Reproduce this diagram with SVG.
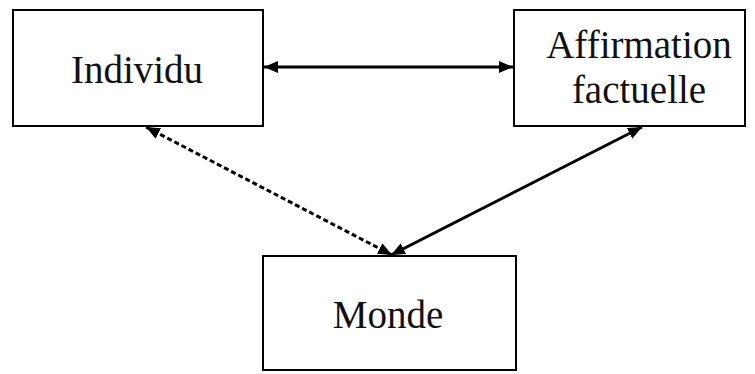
<svg xmlns="http://www.w3.org/2000/svg" width="755" height="374" viewBox="0 0 755 374">
  <style>
    .box { fill: #ffffff; stroke: #000000; stroke-width: 2; }
    .label { font-family: "Liberation Serif", "Times New Roman", serif; font-size: 39px; fill: #111111; text-anchor: middle; }
    .link { stroke: #000000; stroke-width: 3; fill: none; }
    .dashed { stroke-dasharray: 5 3; }
  </style>
  <defs>
    <marker id="arrow" viewBox="0 0 14 12" refX="14" refY="6" markerWidth="14" markerHeight="12" orient="auto-start-reverse" markerUnits="userSpaceOnUse">
      <path d="M0,0 L14,6 L0,12 Z" fill="#000000"/>
    </marker>
  </defs>
  <rect width="755" height="374" fill="#ffffff"/>

  <g id="individu">
    <rect class="box" x="13" y="10" width="250" height="116"/>
    <text class="label" x="137" y="83">Individu</text>
  </g>

  <g id="affirmation">
    <rect class="box" x="514" y="10" width="231" height="116"/>
    <text class="label" x="639" y="58">Affirmation</text>
    <text class="label" x="639" y="103">factuelle</text>
  </g>

  <g id="monde">
    <rect class="box" x="263" y="256" width="253" height="114"/>
    <text class="label" x="388" y="328">Monde</text>
  </g>

  <g id="connectors">
    <line class="link" x1="264" y1="67" x2="513" y2="67" marker-start="url(#arrow)" marker-end="url(#arrow)"/>
    <line class="link dashed" x1="146" y1="127" x2="392" y2="255" marker-start="url(#arrow)" marker-end="url(#arrow)"/>
    <line class="link" x1="642" y1="127" x2="391" y2="255" marker-start="url(#arrow)" marker-end="url(#arrow)"/>
  </g>
</svg>
